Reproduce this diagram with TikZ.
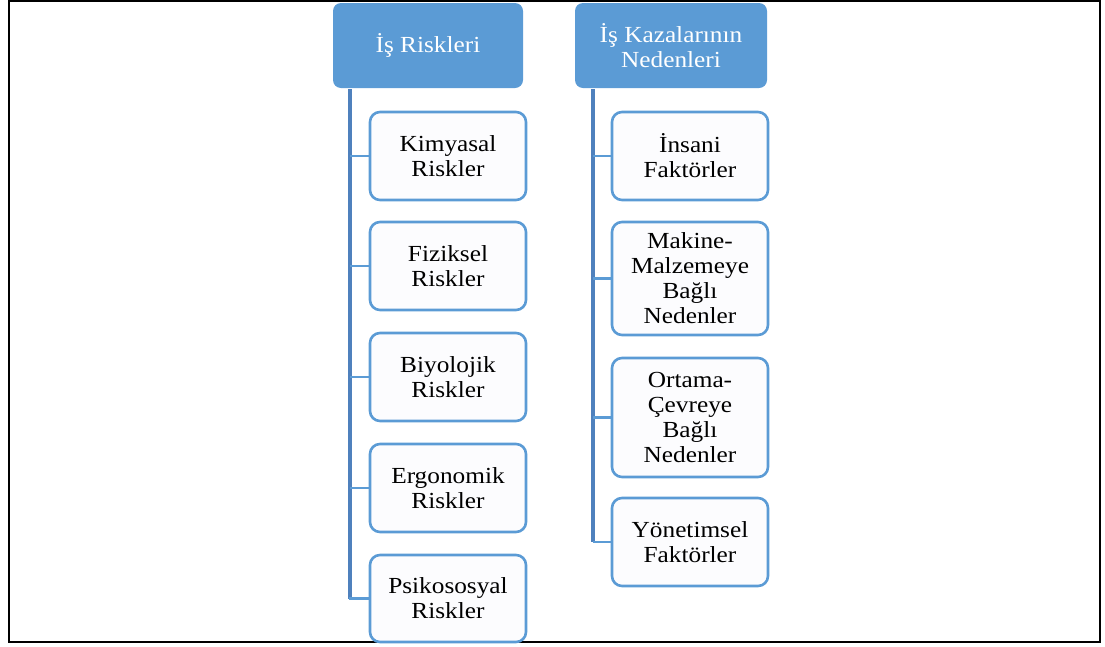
\documentclass[tikz,border=0pt]{standalone}
\usepackage{fontspec}
\setmainfont{Liberation Serif}[FakeStretch=1.1]
\definecolor{hdr}{HTML}{5B9BD5}
\definecolor{conn}{HTML}{4F81BD}
\definecolor{boxfill}{HTML}{FCFCFE}
\begin{document}
\begin{tikzpicture}[x=1pt,y=-1pt,
  header/.style={rectangle, rounded corners=8pt, fill=hdr, draw=none, text=white,
    minimum width=190pt, minimum height=85pt, inner sep=0pt, align=center,
    font=\fontsize{23}{25}\selectfont},
  child/.style={rectangle, rounded corners=10pt, fill=boxfill, draw=hdr, line width=2.6pt,
    minimum width=156pt, inner sep=0pt, align=center,
    font=\fontsize{23}{25}\selectfont},
  trunk/.style={conn, line width=4pt},
  branch/.style={hdr, line width=2.6pt}]
\useasboundingbox (0,0) rectangle (1105,646);
\draw[line width=2pt] (9,-0.5) -- (9,642) -- (1100,642) -- (1100,-0.5);
\draw[line width=2pt] (9,0.5) -- (1100,0.5);
% headers
\node[header] (h1) at (428,45.5) {İş Riskleri};
\node[header, minimum width=192pt] (h2) at (671,45.5) {İş Kazalarının\\Nedenleri};
% left children
\node[child, minimum height=88pt] (k) at (448,156) {Kimyasal\\Riskler};
\node[child, minimum height=88pt] (f) at (448,266) {Fiziksel\\Riskler};
\node[child, minimum height=88pt] (b) at (448,377) {Biyolojik\\Riskler};
\node[child, minimum height=88pt] (e) at (448,488) {Ergonomik\\Riskler};
\node[child, minimum height=87pt] (p) at (448,598.5) {Psikososyal\\Riskler};
% right children
\node[child, minimum height=88pt] (i) at (690,156) {İnsani\\Faktörler};
\node[child, minimum height=113pt] (m) at (690,278.5) {Makine-\\Malzemeye\\Bağlı\\Nedenler};
\node[child, minimum height=119pt] (o) at (690,417.5) {Ortama-\\Çevreye\\Bağlı\\Nedenler};
\node[child, minimum height=88pt] (y) at (690,542) {Yönetimsel\\Faktörler};
% connectors left
\coordinate (lt) at (350,89);
\coordinate (lb) at (350,598.5);
\draw[trunk] (lt) -- (lb);
\foreach \n in {k,f,b,e,p}{\draw[branch] (350,0 |- \n.west) -- (\n.west);}
\draw[branch] ([xshift=-1.3pt]lb) -- (p.west);
% connectors right
\coordinate (rt) at (593,89);
\coordinate (rb) at (593,542);
\draw[trunk] (rt) -- (rb);
\foreach \n in {i,m,o,y}{\draw[branch] (593,0 |- \n.west) -- (\n.west);}
\end{tikzpicture}
\end{document}
